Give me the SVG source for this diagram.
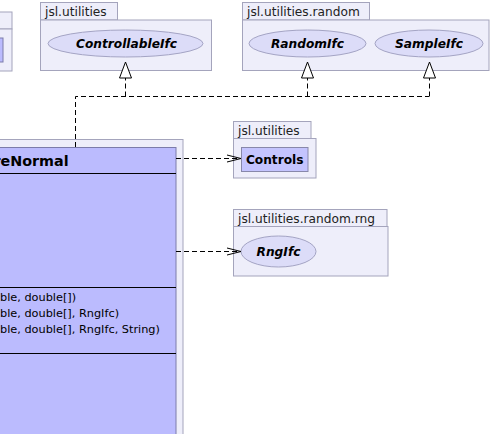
<svg xmlns="http://www.w3.org/2000/svg" width="492" height="434" viewBox="0 0 492 434">
  <style>
    .pkg { fill: #eeeefa; stroke: #a4a4bc; stroke-width: 1; }
    .cls { fill: #bbbbfe; stroke: #7c7caa; stroke-width: 1; }
    .ifc { fill: #dcdcf8; stroke: #a4a4c4; stroke-width: 1; }
    .sep { stroke: #000; stroke-width: 1; }
    .plabel { font-family: "DejaVu Sans", sans-serif; font-size: 12.2px; fill: #222; }
    .iname { font-family: "DejaVu Sans", sans-serif; font-size: 12.2px; font-weight: bold; font-style: italic; fill: #000; text-anchor: middle; }
    .cname { font-family: "DejaVu Sans", sans-serif; font-size: 12.2px; font-weight: bold; fill: #000; text-anchor: middle; }
    .title { font-family: "DejaVu Sans", sans-serif; font-size: 14.3px; font-weight: bold; fill: #000; }
    .member { font-family: "DejaVu Sans", sans-serif; font-size: 11.3px; fill: #000; }
    .dep { fill: none; stroke: #000; stroke-width: 1; stroke-dasharray: 5 3; }
    .head { fill: none; stroke: #000; stroke-width: 1; }
    .tri { fill: #fff; stroke: #000; stroke-width: 1; }
  </style>

  <!-- package partly outside the left edge -->
  <g id="pkg-left">
    <rect class="pkg" x="-60" y="12" width="72" height="17"/>
    <rect class="pkg" x="-60" y="29" width="72" height="42"/>
    <rect class="cls" x="-40" y="38" width="43" height="24"/>
  </g>

  <!-- jsl.utilities : ControllableIfc -->
  <g id="pkg-utilities-top">
    <rect class="pkg" x="40.5" y="2.5" width="77" height="17.5"/>
    <rect class="pkg" x="40.5" y="20" width="171" height="50.5"/>
    <text class="plabel" x="45" y="16">jsl.utilities</text>
  </g>
  <g id="ControllableIfc">
    <ellipse class="ifc" cx="125.5" cy="43.5" rx="77.5" ry="13.5"/>
    <text class="iname" x="126.5" y="48">ControllableIfc</text>
  </g>

  <!-- jsl.utilities.random : RandomIfc, SampleIfc -->
  <g id="pkg-random">
    <rect class="pkg" x="242.5" y="2.5" width="127" height="17.5"/>
    <rect class="pkg" x="242.5" y="20" width="246.5" height="50.5"/>
    <text class="plabel" x="247" y="16">jsl.utilities.random</text>
  </g>
  <g id="RandomIfc">
    <ellipse class="ifc" cx="307.5" cy="43.5" rx="58.5" ry="13.5"/>
    <text class="iname" x="307.5" y="48">RandomIfc</text>
  </g>
  <g id="SampleIfc">
    <ellipse class="ifc" cx="429" cy="43.5" rx="54" ry="13.5"/>
    <text class="iname" x="429" y="48">SampleIfc</text>
  </g>

  <!-- jsl.utilities : Controls -->
  <g id="pkg-utilities-mid">
    <rect class="pkg" x="233.5" y="121.5" width="77.5" height="17"/>
    <rect class="pkg" x="233.5" y="138.5" width="82.5" height="39.5"/>
    <text class="plabel" x="238" y="134.5">jsl.utilities</text>
  </g>
  <g id="Controls">
    <rect class="cls" x="241.5" y="147.5" width="66.5" height="24" style="fill:#c4c4fe;stroke:#8888aa"/>
    <text class="cname" x="274.7" y="164">Controls</text>
  </g>

  <!-- jsl.utilities.random.rng : RngIfc -->
  <g id="pkg-rng">
    <rect class="pkg" x="233.5" y="209.5" width="153.5" height="17"/>
    <rect class="pkg" x="233.5" y="226.5" width="154.5" height="49.5"/>
    <text class="plabel" x="238" y="222.5">jsl.utilities.random.rng</text>
  </g>
  <g id="RngIfc">
    <ellipse class="ifc" cx="278.5" cy="251.5" rx="37.5" ry="15.5"/>
    <text class="iname" x="278.5" y="256">RngIfc</text>
  </g>

  <!-- the class, cut off at the left and bottom -->
  <g id="NormalClass">
    <rect class="pkg" x="-60" y="139.5" width="243" height="320"/>
    <rect class="cls" x="-40" y="147.5" width="216" height="310"/>
    <line class="sep" x1="-40" y1="173.5" x2="176" y2="173.5"/>
    <line class="sep" x1="-40" y1="287.5" x2="176" y2="287.5"/>
    <line class="sep" x1="-40" y1="353.5" x2="176" y2="353.5"/>
    <text class="title" x="-6.5" y="165.5">reNormal</text>
    <text class="member" x="0" y="300.5">ble, double[])</text>
    <text class="member" x="0" y="316.5">ble, double[], RngIfc)</text>
    <text class="member" x="0" y="332.5">ble, double[], RngIfc, String)</text>
  </g>

  <!-- realizations and dependencies -->
  <g id="connectors">
    <path class="dep" d="M75.5,147 V96.5 H429"/>
    <path class="dep" d="M125.5,96.5 V78"/>
    <path class="dep" d="M307.5,96.5 V78"/>
    <path class="dep" d="M429.5,96.5 V78"/>
    <polygon class="tri" points="125.5,62 119.5,78 131.5,78"/>
    <polygon class="tri" points="307.5,62 301.5,78 313.5,78"/>
    <polygon class="tri" points="429.5,62 423.5,78 435.5,78"/>

    <path class="dep" d="M176,158.5 H240"/>
    <path class="head" d="M227,155 L241,158.5 L227,162"/>
    <path class="dep" d="M176,251.5 H240"/>
    <path class="head" d="M227,248 L241,251.5 L227,255"/>
  </g>
</svg>
